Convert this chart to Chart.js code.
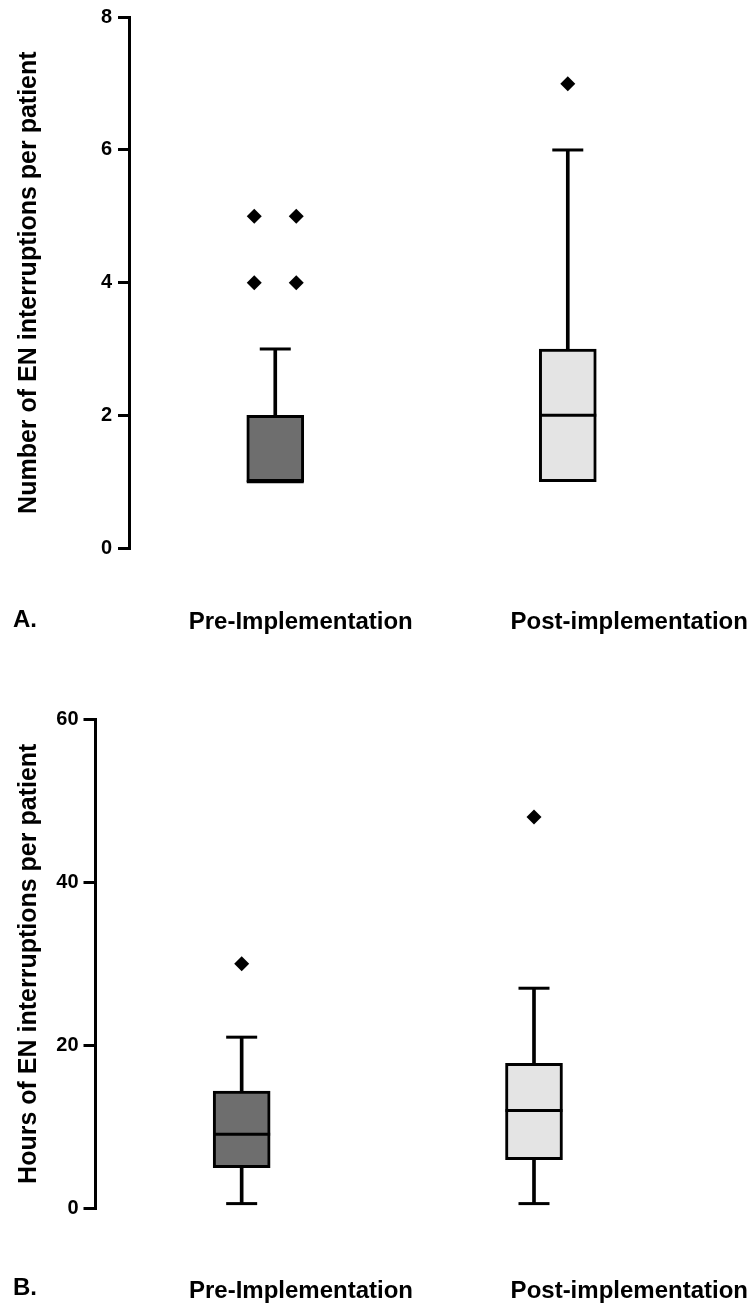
<!DOCTYPE html>
<html><head><meta charset="utf-8">
<script src="https://cdn.jsdelivr.net/npm/chart.js@4/dist/chart.umd.min.js"></script>
<style>
html,body{margin:0;padding:0;background:#fff;}
canvas{display:block;}
</style></head>
<body>
<canvas id="chartA" width="755" height="653"></canvas>
<canvas id="chartB" width="755" height="654"></canvas>
<script>
// ---------- data ----------
const categories = ['Pre-Implementation', 'Post-implementation'];
const boxColors = ['#6e6e6e', '#e4e4e4'];

// Panel A: Number of EN interruptions per patient
const countMin = [1, 1];
const countQ1 = [1, 1];
const countMedian = [1, 2];
const countQ3 = [2, 3];
const countMax = [3, 6];
const countOutliers = [[5, 5, 4, 4], [7]];
const countTicks = [0, 2, 4, 6, 8];

// Panel B: Hours of EN interruptions per patient
const hoursMin = [0.6, 0.6];
const hoursQ1 = [5.0, 6.0];
const hoursMedian = [9.1, 12.0];
const hoursQ3 = [14.4, 17.8];
const hoursMax = [21, 27];
const hoursOutliers = [[30], [48]];
const hoursTicks = [0, 20, 40, 60];

// ---------- helpers ----------
const FAMILY = '"Liberation Sans", Arial, Helvetica, sans-serif';

const panelLetter = {
  id: 'panelLetter',
  afterDraw(chart, args, opts) {
    const ctx = chart.ctx;
    const xs = chart.scales.x;
    ctx.save();
    ctx.font = 'bold 24px ' + FAMILY;
    ctx.fillStyle = '#000';
    ctx.textAlign = 'left';
    ctx.textBaseline = 'top';
    ctx.fillText(opts.text, opts.x, xs.top + xs.options.ticks.padding);
    ctx.restore();
  }
};

function outlierPoints(outliers) {
  const pts = [];
  outliers.forEach((vals, i) => {
    const counts = {};
    vals.forEach(v => counts[v] = (counts[v] || 0) + 1);
    const seen = {};
    vals.forEach(v => {
      const n = counts[v];
      const k = seen[v] = (seen[v] === undefined ? 0 : seen[v] + 1);
      pts.push({x: i + (k - (n - 1) / 2) * 0.1436, y: v});
    });
  });
  return pts;
}

function makeBoxChart(id, d, L) {
  const idx = categories.map((c, i) => i);
  const caps = [];
  const upper = [];
  const lower = [];
  idx.forEach(i => {
    if (d.max[i] > d.q3[i]) { caps.push({x: i, y: d.max[i]}); upper.push({x: i, y: [d.q3[i], d.max[i]]}); }
    if (d.min[i] < d.q1[i]) { caps.push({x: i, y: d.min[i]}); lower.push({x: i, y: [d.min[i], d.q1[i]]}); }
  });
  return new Chart(document.getElementById(id), {
    type: 'bar',
    data: {
      datasets: [
        {
          type: 'bar', label: 'box',
          data: idx.map(i => ({x: i, y: [d.q1[i], d.q3[i]]})),
          backgroundColor: boxColors, borderColor: '#000', borderWidth: 3,
          borderSkipped: false, barThickness: 57, grouped: false, order: 3
        },
        {
          type: 'bar', label: 'upper whisker', data: upper,
          backgroundColor: '#000', borderWidth: 0, barThickness: 3, grouped: false, order: 4
        },
        {
          type: 'bar', label: 'lower whisker', data: lower,
          backgroundColor: '#000', borderWidth: 0, barThickness: 3, grouped: false, order: 4
        },
        {
          type: 'scatter', label: 'caps', data: caps,
          pointStyle: 'line', pointRadius: 15.5, pointHoverRadius: 15.5,
          borderColor: '#000', borderWidth: 3, order: 2, clip: false
        },
        {
          type: 'scatter', label: 'median',
          data: idx.map(i => ({x: i, y: d.median[i]})),
          pointStyle: 'line', pointRadius: 28.5, pointHoverRadius: 28.5,
          borderColor: '#000', borderWidth: 3, order: 1, clip: false
        },
        {
          type: 'scatter', label: 'outliers',
          data: outlierPoints(d.outliers),
          pointStyle: 'rectRot', pointRadius: 7.5, pointHoverRadius: 7.5,
          backgroundColor: '#000', borderColor: '#000', borderWidth: 0, order: 0, clip: false
        }
      ]
    },
    plugins: [panelLetter],
    options: {
      responsive: false,
      animation: false,
      events: [],
      layout: {autoPadding: false, padding: {top: L.top, right: 0, bottom: 0, left: 0}},
      plugins: {
        legend: {display: false},
        tooltip: {enabled: false},
        panelLetter: {text: L.letter, x: L.letterX}
      },
      scales: {
        x: {
          type: 'linear', min: -0.5, max: L.xMax, offset: false,
          afterBuildTicks: s => { s.ticks = L.labelPos.map(v => ({value: v})); },
          grid: {display: false, drawTicks: false},
          border: {display: false},
          ticks: {
            callback: (v, i) => categories[i],
            color: '#000', font: {family: FAMILY, size: 24, weight: 'bold'},
            padding: L.labelPad, maxRotation: 0, autoSkip: false
          },
          afterFit: s => { s.height = L.xHeight; s.paddingLeft = 0; s.paddingRight = 0; }
        },
        y: {
          type: 'linear', min: d.ticks[0], max: d.ticks[d.ticks.length - 1],
          afterBuildTicks: s => { s.ticks = d.ticks.map(v => ({value: v})); },
          border: {display: true, color: '#000', width: 3},
          grid: {display: true, drawOnChartArea: false, drawTicks: true,
                 tickLength: L.tickLen, tickColor: '#000', tickWidth: 3,
                 color: '#000', lineWidth: 3},
          ticks: {color: '#000', font: {family: FAMILY, size: 20, weight: 'bold'}, padding: L.tickPad},
          title: {display: true, text: d.title, color: '#000',
                  font: {family: FAMILY, size: 25, weight: 'bold'},
                  padding: {top: 14, bottom: 0}},
          afterFit: s => { s.width = L.axisX; s.paddingTop = 0; s.paddingBottom = 0; }
        }
      }
    }
  });
}

makeBoxChart('chartA', {
  min: countMin, q1: countQ1, median: countMedian, q3: countQ3, max: countMax,
  outliers: countOutliers, ticks: countTicks,
  title: 'Number of EN interruptions per patient'
}, {
  top: 17.3, axisX: 129, xMax: 1.64, xHeight: 105, labelPad: 60,
  labelPos: [0.087, 1.21], tickLen: 11, tickPad: 6, letter: 'A.', letterX: 13
});

makeBoxChart('chartB', {
  min: hoursMin, q1: hoursQ1, median: hoursMedian, q3: hoursQ3, max: hoursMax,
  outliers: hoursOutliers, ticks: hoursTicks,
  title: 'Hours of EN interruptions per patient'
}, {
  top: 66, axisX: 95.5, xMax: 1.756, xHeight: 98.5, labelPad: 68,
  labelPos: [0.203, 1.326], tickLen: 12, tickPad: 5, letter: 'B.', letterX: 13
});
</script>
</body></html>
